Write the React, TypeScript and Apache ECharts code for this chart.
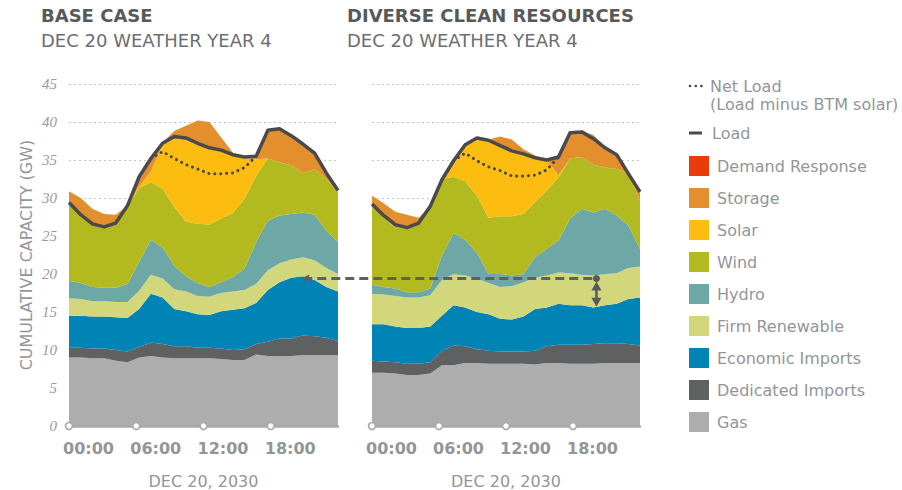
import React, { useEffect, useRef } from "react";
import * as echarts from "echarts";

const FONT = "DejaVu Sans";
const TEXT_GRAY = "#939598";

const HOURS = [
  "00", "01", "02", "03", "04", "05", "06", "07", "08", "09", "10", "11",
  "12", "13", "14", "15", "16", "17", "18", "19", "20", "21", "22", "23",
];
const TICK_HOURS = [0, 6, 12, 18];
const Y_TICKS_MAX = 45;

const PANEL_TITLES = ["BASE CASE", "DIVERSE CLEAN RESOURCES"];
const PANEL_SUBTITLE = "DEC 20 WEATHER YEAR 4";
const DATE_LABEL = "DEC 20, 2030";
const Y_TITLE = "CUMULATIVE CAPACITY (GW)";

// stacking order: bottom -> top
const LAYERS = [
  "Gas",
  "Dedicated Imports",
  "Economic Imports",
  "Firm Renewable",
  "Hydro",
  "Wind",
  "Solar",
  "Storage",
  "Demand Response",
];
const LAYER_COLORS: Record<string, string> = {
  Gas: "#ADADAD",
  "Dedicated Imports": "#5F6062",
  "Economic Imports": "#0084B5",
  "Firm Renewable": "#D3D77B",
  Hydro: "#6DA8A6",
  Wind: "#B2BA1F",
  Solar: "#FDBC10",
  Storage: "#E38F2D",
  "Demand Response": "#EA3B0B",
};
const LEGEND_ORDER = [
  "Demand Response",
  "Storage",
  "Solar",
  "Wind",
  "Hydro",
  "Firm Renewable",
  "Economic Imports",
  "Dedicated Imports",
  "Gas",
];

// ---- Base case (GW per resource, hourly) ----
const BASE_GAS = [9.0, 9.0, 8.9, 8.9, 8.6, 8.4, 9.0, 9.2, 9.0, 8.9, 8.9, 8.9, 8.9, 8.8, 8.7, 8.7, 9.4, 9.2, 9.2, 9.2, 9.3, 9.3, 9.3, 9.3];
const BASE_DEDICATED = [1.3, 1.3, 1.3, 1.3, 1.4, 1.4, 1.4, 1.8, 1.8, 1.6, 1.6, 1.4, 1.4, 1.4, 1.3, 1.4, 1.4, 1.9, 2.3, 2.3, 2.6, 2.5, 2.3, 1.9];
const BASE_ECONOMIC = [4.2, 4.2, 4.2, 4.2, 4.3, 4.4, 5.0, 6.4, 6.1, 4.9, 4.6, 4.4, 4.3, 4.9, 5.3, 5.4, 5.4, 6.8, 7.4, 8.0, 7.8, 7.4, 6.7, 6.5];
const BASE_FIRM = [2.3, 2.2, 2.0, 2.0, 2.0, 2.1, 2.4, 2.5, 2.5, 2.6, 2.6, 2.4, 2.4, 2.4, 2.4, 2.4, 2.5, 2.6, 2.5, 2.4, 2.5, 2.6, 2.5, 2.3];
const BASE_HYDRO = [2.3, 2.1, 1.9, 1.8, 1.9, 2.4, 3.8, 4.6, 4.1, 3.1, 2.0, 1.7, 1.3, 1.4, 1.9, 2.8, 5.5, 6.5, 6.3, 6.0, 5.9, 6.0, 4.9, 4.2];
const BASE_WIND = [10.0, 8.7, 8.3, 8.0, 8.4, 10.3, 9.7, 7.6, 7.7, 7.7, 7.2, 7.8, 8.2, 8.4, 8.4, 9.2, 8.7, 8.2, 7.0, 6.4, 5.2, 6.0, 6.8, 6.6];
const BASE_SOLAR = [0, 0, 0, 0, 0, 0, 0.2, 1.4, 5.8, 9.0, 10.7, 10.3, 10.0, 8.9, 7.6, 5.3, 2.2, 0, 0, 0, 0, 0, 0, 0];
const BASE_STORAGE = [1.8, 2.5, 2.0, 1.7, 1.2, 0, 1.4, 1.7, 0.3, 1.0, 1.9, 3.3, 3.5, 1.8, 0.4, 0.1, 0.5, 3.7, 4.4, 3.9, 3.8, 2.1, 0.9, 0.2];
const BASE_DEMAND_RESPONSE = [0, 0, 0, 0, 0, 0, 0, 0, 0, 0, 0, 0, 0, 0, 0, 0, 0, 0, 0, 0, 0, 0, 0, 0];
const BASE_LOAD = [29.4, 27.8, 26.6, 26.2, 26.7, 29.0, 32.8, 35.2, 37.2, 38.1, 37.9, 37.2, 36.6, 36.3, 35.7, 35.4, 35.5, 38.9, 39.1, 38.2, 37.1, 35.9, 33.3, 31.0];
const BASE_NET_LOAD = [null, null, null, null, null, null, null, 35.2, 36.1, 35.2, 34.4, 33.8, 33.2, 33.2, 33.3, 34.0, 35.5, null, null, null, null, null, null, null];

// ---- Diverse clean resources ----
const DCR_GAS = [7.0, 7.0, 6.9, 6.7, 6.7, 6.9, 8.0, 8.0, 8.3, 8.3, 8.2, 8.2, 8.2, 8.2, 8.1, 8.3, 8.3, 8.2, 8.2, 8.2, 8.3, 8.3, 8.3, 8.3];
const DCR_DEDICATED = [1.6, 1.5, 1.5, 1.5, 1.5, 1.5, 1.9, 2.6, 2.2, 1.8, 1.7, 1.6, 1.6, 1.6, 1.8, 2.2, 2.4, 2.5, 2.5, 2.6, 2.6, 2.6, 2.5, 2.3];
const DCR_ECONOMIC = [4.8, 4.9, 4.7, 4.7, 4.7, 4.7, 4.6, 5.3, 5.1, 4.9, 4.8, 4.3, 4.2, 4.6, 5.5, 5.1, 5.4, 5.2, 5.2, 4.8, 5.0, 5.2, 5.9, 6.3];
const DCR_FIRM = [4.0, 3.9, 4.0, 4.0, 4.0, 4.1, 4.7, 4.1, 4.2, 4.4, 4.1, 4.2, 4.4, 4.5, 4.1, 4.2, 4.1, 4.2, 4.0, 4.2, 4.1, 4.0, 4.1, 4.1];
const DCR_HYDRO = [1.2, 1.0, 1.0, 0.7, 0.7, 0.9, 3.2, 5.4, 4.7, 3.4, 1.2, 1.7, 1.4, 1.1, 2.7, 3.5, 4.2, 7.2, 8.7, 8.3, 8.6, 7.6, 5.6, 2.3];
const DCR_WIND = [10.4, 9.3, 7.9, 8.7, 9.0, 10.8, 10.1, 7.4, 7.7, 7.5, 7.4, 7.6, 7.8, 7.9, 7.3, 7.7, 8.3, 7.9, 6.8, 6.3, 5.4, 6.1, 6.8, 6.4];
const DCR_SOLAR = [0, 0, 0, 0, 0, 0, 0, 1.5, 4.8, 7.3, 10.0, 9.4, 8.8, 8.1, 6.1, 4.0, 0.3, 0, 0, 0, 0, 0, 0, 0];
const DCR_STORAGE = [1.3, 1.7, 2.2, 1.5, 0.8, 0, 0.1, 0.6, 0, 0.3, 0.3, 1.1, 1.3, 0.4, 0, 0, 2.4, 3.6, 3.4, 3.9, 2.8, 2.0, 0, 1.1];
const DCR_DEMAND_RESPONSE = [0, 0, 0, 0, 0, 0, 0, 0, 0, 0, 0, 0, 0, 0, 0, 0, 0, 0, 0, 0, 0, 0, 0, 0];
const DCR_LOAD = [29.2, 27.7, 26.5, 26.1, 26.7, 28.9, 32.4, 34.9, 37.0, 37.9, 37.6, 36.9, 36.2, 35.8, 35.3, 35.0, 35.4, 38.6, 38.7, 37.8, 36.6, 35.7, 33.2, 30.8];
const DCR_NET_LOAD = [null, null, null, null, null, null, null, 34.9, 35.9, 34.9, 34.1, 33.6, 32.9, 32.9, 33.0, 33.7, 35.4, null, null, null, null, null, null, null];

// annotation: economic-imports level carried from base case to the DCR case
const ANNOT_LEFT_HOUR = 20.9;
const ANNOT_RIGHT_HOUR = 20.1;
const ANNOT_LEVEL = 19.4;
const ANNOT_BOTTOM = 15.7;

const PANELS = [
  {
    layers: [BASE_GAS, BASE_DEDICATED, BASE_ECONOMIC, BASE_FIRM, BASE_HYDRO, BASE_WIND, BASE_SOLAR, BASE_STORAGE, BASE_DEMAND_RESPONSE],
    load: BASE_LOAD,
    net: BASE_NET_LOAD,
  },
  {
    layers: [DCR_GAS, DCR_DEDICATED, DCR_ECONOMIC, DCR_FIRM, DCR_HYDRO, DCR_WIND, DCR_SOLAR, DCR_STORAGE, DCR_DEMAND_RESPONSE],
    load: DCR_LOAD,
    net: DCR_NET_LOAD,
  },
];

const GRID_LEFTS = [69, 372];
const GRID_WIDTHS = [269, 268];
const TITLE_LEFTS = [41, 347];
const LINE_COLOR = "#4A4A4C";
const AXIS_COLOR = "#A7A9AC";

function buildOption(): any {
  const grid = PANELS.map((_, g) => ({
    left: GRID_LEFTS[g],
    top: 84,
    width: GRID_WIDTHS[g],
    height: 342,
    containLabel: false,
    outerBoundsMode: "none",
  }));

  const xAxis: any[] = [];
  const yAxis: any[] = [];
  PANELS.forEach((_, g) => {
    xAxis.push({
      type: "category",
      gridIndex: g,
      position: "bottom",
      data: HOURS,
      boundaryGap: false,
      show: false,
    });
    xAxis.push({
      type: "value",
      gridIndex: g,
      position: "bottom",
      offset: 0,
      min: 0,
      max: 24,
      interval: 6,
      z: 3,
      axisLine: { show: true, onZero: false, lineStyle: { color: AXIS_COLOR, width: 2.5 } },
      axisTick: { show: false },
      splitLine: { show: false },
      axisLabel: {
        show: true,
        showMaxLabel: false,
        align: "left",
        margin: 14,
        padding: [0, 0, 0, -6],
        color: TEXT_GRAY,
        fontFamily: FONT,
        fontWeight: "bold",
        fontSize: 16,
        formatter: (v: number) => (v >= 24 ? "" : String(v).padStart(2, "0") + ":00"),
      },
      name: DATE_LABEL,
      nameLocation: "middle",
      nameGap: 47,
      nameTextStyle: { color: TEXT_GRAY, fontFamily: FONT, fontSize: 16, lineHeight: 16 },
    });
    yAxis.push({
      type: "value",
      gridIndex: g,
      min: 0,
      max: Y_TICKS_MAX,
      interval: 5,
      axisLine: { show: false },
      axisTick: { show: false },
      splitLine: { show: true, lineStyle: { color: "#C4C4C4", width: 1, type: [2, 3] } },
      axisLabel: {
        show: g === 0,
        margin: 12,
        color: "#9A9A9A",
        fontFamily: "Liberation Serif",
        fontStyle: "italic",
        fontSize: 15,
      },
      name: g === 0 ? Y_TITLE : "",
      nameLocation: "middle",
      nameGap: 35,
      nameTextStyle: { color: TEXT_GRAY, fontFamily: FONT, fontSize: 16 },
    });
  });

  const series: any[] = [];
  PANELS.forEach((p, g) => {
    LAYERS.forEach((name, k) => {
      series.push({
        type: "line",
        name,
        xAxisIndex: 2 * g,
        yAxisIndex: g,
        stack: "panel" + g,
        data: p.layers[k],
        symbol: "none",
        showSymbol: false,
        lineStyle: { width: 0, color: LAYER_COLORS[name] },
        itemStyle: { color: LAYER_COLORS[name] },
        areaStyle: { color: LAYER_COLORS[name], opacity: 1 },
        z: 2,
        silent: true,
      });
    });
    series.push({
      type: "line",
      name: "Net Load",
      xAxisIndex: 2 * g,
      yAxisIndex: g,
      data: p.net,
      symbol: "none",
      connectNulls: false,
      lineStyle: { color: LINE_COLOR, width: 3, type: [0.1, 5.8], cap: "round" },
      z: 4,
      silent: true,
    });
    series.push({
      type: "line",
      name: "Load",
      xAxisIndex: 2 * g,
      yAxisIndex: g,
      data: p.load,
      symbol: "none",
      lineStyle: { color: LINE_COLOR, width: 3.5, join: "round" },
      z: 5,
      silent: true,
    });
    series.push({
      type: "scatter",
      id: "ticks-" + g,
      xAxisIndex: 2 * g + 1,
      yAxisIndex: g,
      data: TICK_HOURS.map((h) => [h, 0]),
      symbol: "circle",
      symbolSize: 7,
      clip: false,
      itemStyle: { color: "#FFFFFF", borderColor: AXIS_COLOR, borderWidth: 1.6, opacity: 1 },
      z: 10,
      silent: true,
    });
  });

  const title = PANEL_TITLES.map((t, g) => ({
    text: t,
    subtext: PANEL_SUBTITLE,
    left: TITLE_LEFTS[g],
    top: 6,
    itemGap: 7,
    padding: 0,
    textStyle: { color: "#58595B", fontFamily: FONT, fontWeight: "bold", fontSize: 18 },
    subtextStyle: { color: "#6D6E71", fontFamily: FONT, fontWeight: "normal", fontSize: 18 },
  }));

  return {
    animation: false,
    backgroundColor: "#FFFFFF",
    textStyle: { fontFamily: FONT },
    title,
    grid,
    xAxis,
    yAxis,
    legend: {
      data: LEGEND_ORDER,
      orient: "vertical",
      left: 689,
      top: 156,
      padding: 0,
      icon: "rect",
      itemWidth: 20,
      itemHeight: 20,
      itemGap: 12,
      selectedMode: false,
      textStyle: { color: TEXT_GRAY, fontFamily: FONT, fontSize: 16, padding: [0, 0, 0, 3] },
    },
    series,
  };
}

export default function App() {
  const ref = useRef<HTMLDivElement>(null);
  useEffect(() => {
    if (!ref.current) return;
    const chart = echarts.init(ref.current, null, { renderer: "svg" });
    chart.setOption(buildOption());

    const pL = chart.convertToPixel({ seriesId: "ticks-0" }, [ANNOT_LEFT_HOUR, ANNOT_LEVEL]) as number[];
    const pR = chart.convertToPixel({ seriesId: "ticks-1" }, [ANNOT_RIGHT_HOUR, ANNOT_LEVEL]) as number[];
    const pB = chart.convertToPixel({ seriesId: "ticks-1" }, [ANNOT_RIGHT_HOUR, ANNOT_BOTTOM]) as number[];
    const ax = pR[0];
    const annoColor = "#58595B";

    const graphic: any[] = [
      // legend extras: Net Load, Load
      {
        type: "line",
        shape: { x1: 690, y1: 86, x2: 705, y2: 86 },
        style: { stroke: LINE_COLOR, lineWidth: 2.6, lineDash: [0.1, 5.6], lineCap: "round" },
      },
      {
        type: "text",
        x: 710,
        y: 86,
        style: { text: "Net Load", fill: TEXT_GRAY, font: `16px "${FONT}"`, verticalAlign: "middle", align: "left" },
      },
      {
        type: "text",
        x: 710,
        y: 104,
        style: { text: "(Load minus BTM solar)", fill: TEXT_GRAY, font: `16px "${FONT}"`, verticalAlign: "middle", align: "left" },
      },
      {
        type: "line",
        shape: { x1: 689, y1: 133, x2: 702, y2: 133 },
        style: { stroke: LINE_COLOR, lineWidth: 3 },
      },
      {
        type: "text",
        x: 712,
        y: 133,
        style: { text: "Load", fill: TEXT_GRAY, font: `16px "${FONT}"`, verticalAlign: "middle", align: "left" },
      },
      // annotation
      {
        type: "line",
        z: 50,
        shape: { x1: pL[0], y1: pL[1], x2: pR[0], y2: pR[1] },
        style: { stroke: "#5F6062", lineWidth: 3, lineDash: [9, 5] },
      },
      {
        type: "polygon",
        z: 51,
        shape: { points: [[pL[0] - 2, pL[1]], [pL[0] + 6, pL[1] - 4], [pL[0] + 6, pL[1] + 4]] },
        style: { fill: "#5F6062" },
      },
      { type: "circle", z: 51, shape: { cx: pR[0], cy: pR[1], r: 3.5 }, style: { fill: annoColor } },
      {
        type: "line",
        z: 51,
        shape: { x1: ax, y1: pR[1] + 6, x2: ax, y2: pB[1] - 6 },
        style: { stroke: annoColor, lineWidth: 2.5 },
      },
      {
        type: "polygon",
        z: 52,
        shape: { points: [[ax, pR[1] + 3], [ax - 5, pR[1] + 12], [ax + 5, pR[1] + 12]] },
        style: { fill: annoColor },
      },
      {
        type: "polygon",
        z: 52,
        shape: { points: [[ax, pB[1]], [ax - 5, pB[1] - 9], [ax + 5, pB[1] - 9]] },
        style: { fill: annoColor },
      },
    ];
    chart.setOption({ graphic });

    return () => chart.dispose();
  }, []);
  return <div ref={ref} style={{ position: "absolute", left: 0, top: 0, width: 902, height: 490 }} />;
}
